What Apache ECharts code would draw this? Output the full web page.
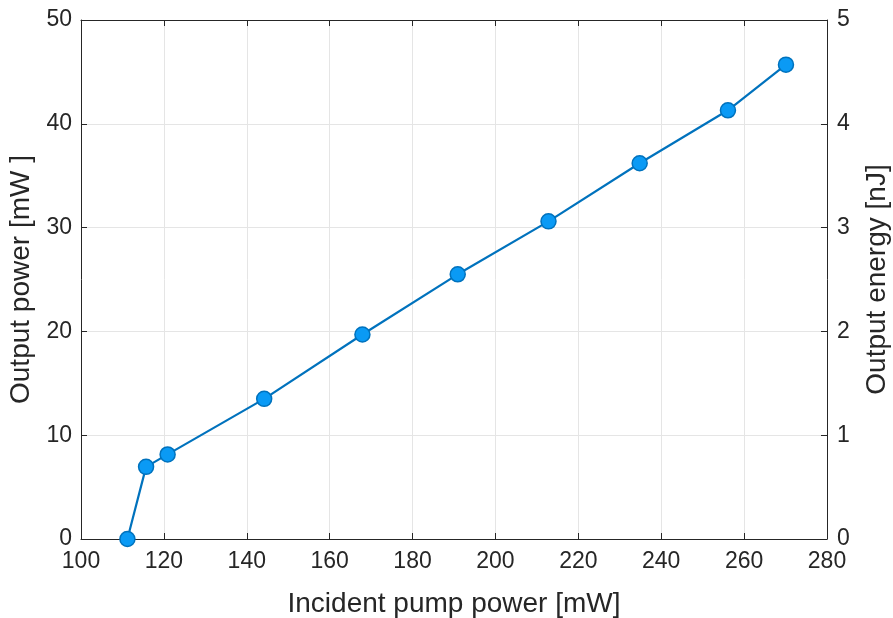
<!DOCTYPE html>
<html>
<head>
<meta charset="utf-8">
<script src="https://cdn.jsdelivr.net/npm/echarts@6/dist/echarts.min.js"></script>
<style>html,body{margin:0;padding:0;background:#fff;overflow:hidden}#c{width:893px;height:618px}</style>
</head>
<body>
<div id="c"></div>
<script>
const pumpPower = [111.2, 115.7, 120.9, 144.2, 167.9, 190.9, 212.8, 234.8, 256.1, 270.1];
const outputPower = [0, 6.95, 8.15, 13.5, 19.7, 25.5, 30.6, 36.2, 41.3, 45.7];
const xTicks = [100, 120, 140, 160, 180, 200, 220, 240, 260, 280];
const leftTicks = [0, 10, 20, 30, 40, 50];
const rightTicks = [0, 1, 2, 3, 4, 5];

const FONT = '"Liberation Sans", Arial, Helvetica, sans-serif';
const AX = '#262626';
const chart = echarts.init(document.getElementById('c'), null, {renderer: 'canvas'});
const axisCommon = {
  axisLine: {show: true, onZero: false, lineStyle: {color: AX, width: 1}},
  axisTick: {show: true, inside: true, length: 6, lineStyle: {color: AX}},
  splitLine: {show: false},
  axisLabel: {color: AX, fontFamily: FONT, fontSize: 23}
};
chart.setOption({
  animation: false,
  backgroundColor: '#fff',
  grid: {left: 81, right: 66, top: 20, bottom: 79, containLabel: false, outerBoundsMode: 'none'},
  xAxis: [
    Object.assign({}, axisCommon, {
      type: 'value', position: 'bottom', min: xTicks[0], max: xTicks[xTicks.length - 1], interval: 20,
      name: 'Incident pump power [mW]', nameLocation: 'middle', nameGap: 51,
      nameTextStyle: {color: AX, fontFamily: FONT, fontSize: 28},
      axisLabel: {color: AX, fontFamily: FONT, fontSize: 23, margin: 11},
      splitLine: {show: true, lineStyle: {color: '#e5e5e5', width: 1}}
    }),
    Object.assign({}, axisCommon, {
      type: 'value', position: 'top', min: xTicks[0], max: xTicks[xTicks.length - 1], interval: 20,
      axisLabel: {show: false}
    })
  ],
  yAxis: [
    Object.assign({}, axisCommon, {
      type: 'value', position: 'left', min: leftTicks[0], max: leftTicks[leftTicks.length - 1], interval: 10,
      name: 'Output power [mW ]', nameLocation: 'middle', nameGap: 41, nameRotate: 90,
      nameTextStyle: {color: AX, fontFamily: FONT, fontSize: 28},
      axisLabel: {color: AX, fontFamily: FONT, fontSize: 23, margin: 9},
      splitLine: {show: true, lineStyle: {color: '#e5e5e5', width: 1}}
    }),
    Object.assign({}, axisCommon, {
      type: 'value', position: 'right', min: rightTicks[0], max: rightTicks[rightTicks.length - 1], interval: 1,
      name: 'Output energy [nJ]', nameLocation: 'middle', nameGap: 36, nameRotate: 90,
      nameTextStyle: {color: AX, fontFamily: FONT, fontSize: 28},
      axisLabel: {color: AX, fontFamily: FONT, fontSize: 23, margin: 10}
    })
  ],
  series: [{
    type: 'line',
    xAxisIndex: 0, yAxisIndex: 0,
    data: pumpPower.map((x, i) => [x, outputPower[i]]),
    symbol: 'circle', symbolSize: 15,
    lineStyle: {color: '#0072BD', width: 2.2},
    itemStyle: {color: '#0a9af5', borderColor: '#0072BD', borderWidth: 1.5},
    z: 5
  }]
});
</script>
</body>
</html>
